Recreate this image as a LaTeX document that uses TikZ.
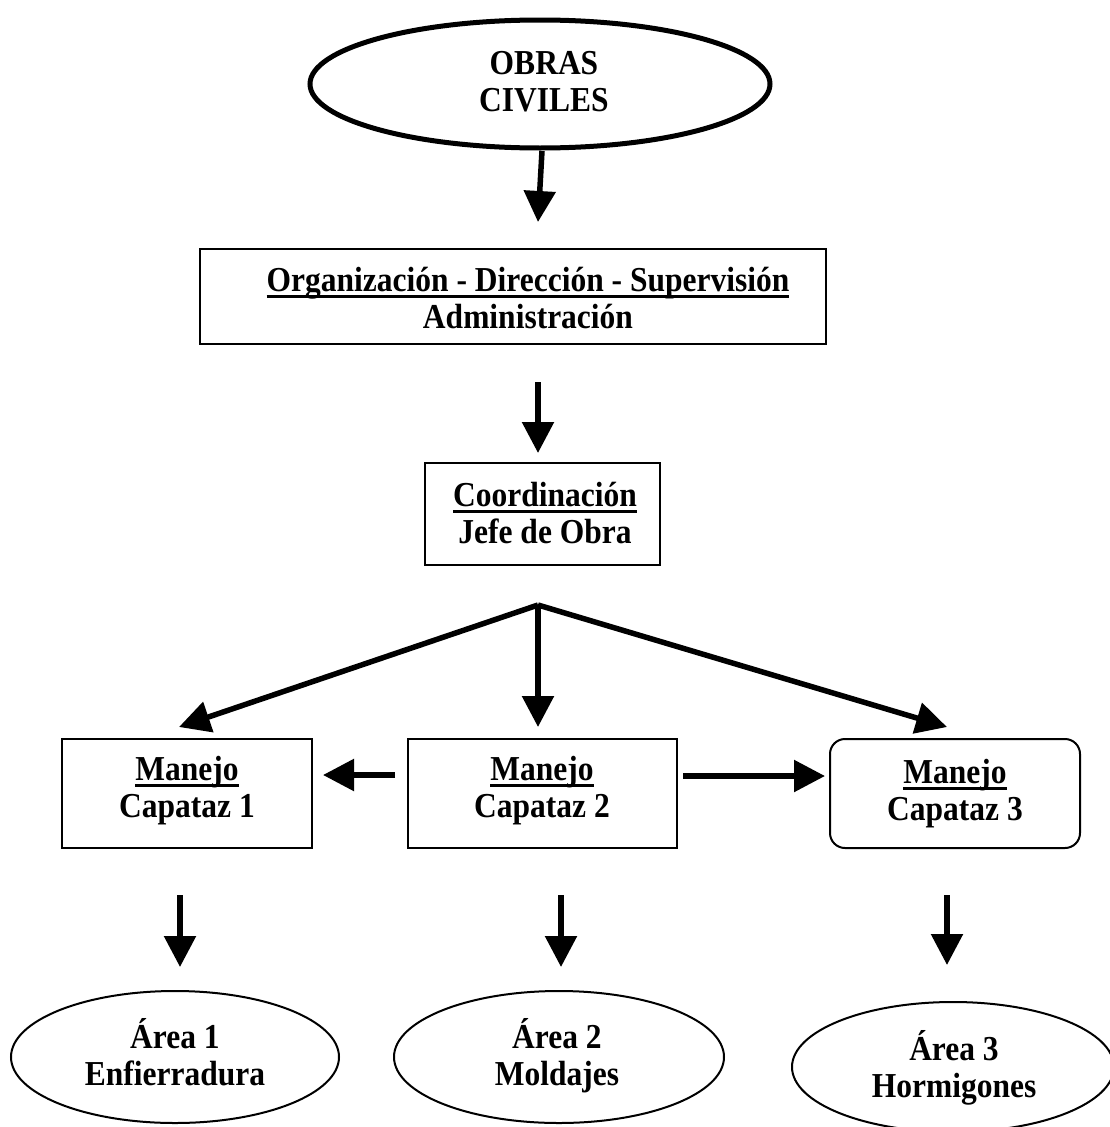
\documentclass[tikz,border=0pt]{standalone}
\usepackage{fontspec}
\setmainfont{Liberation Serif}[FakeStretch=0.9]
\usetikzlibrary{arrows.meta,shapes.geometric}
% heavy underline set close to the baseline
\newcommand\ulin[1]{\setbox0\hbox{#1}\rlap{\rule[-7pt]{\wd0}{3pt}}\box0}
% fixed height for first line and depth for last line of two-line labels
\newcommand\hstr{\rule{0pt}{33pt}}
\newcommand\dstr{\rule[-10pt]{0pt}{10pt}}
\tikzset{
  every node/.style={font=\fontsize{35}{37}\selectfont\bfseries, align=center, inner sep=0pt},
  box/.style={draw, line width=2pt, rectangle},
  rbox/.style={draw, line width=2pt, rectangle, rounded corners=15pt},
  oval/.style={draw, line width=2pt, ellipse},
  bigoval/.style={draw, line width=5pt, ellipse},
  flow/.style={line width=5.5pt, -{Triangle[length=31pt,width=31pt]}},
}
\begin{document}
\begin{tikzpicture}[x=1pt,y=-1pt]
\useasboundingbox (0,0) rectangle (1110,1127);

% top level
\node[bigoval, minimum width=460, minimum height=128] (top) at (540,84) {};
\node (toptxt) at (544,81) {\hstr OBRAS\\CIVILES\dstr};

% management boxes
\node[box, minimum width=626, minimum height=95] (org) at (513,296) {};
\node (orgtxt) at (528,298) {\hstr\ulin{Organización - Dirección - Supervisión}\\Administración\dstr};

\node[box, minimum width=235, minimum height=102] (coord) at (542.5,514) {};
\node (coordtxt) at (545,513) {\hstr\ulin{Coordinación}\\Jefe de Obra\dstr};

% foremen
\node[box, minimum width=250, minimum height=109] (cap1) at (187,793.5) {};
\node (cap1txt) at (187,787) {\hstr\ulin{Manejo}\\Capataz 1\dstr};
\node[box, minimum width=269, minimum height=109] (cap2) at (542.5,793.5) {};
\node (cap2txt) at (542,787) {\hstr\ulin{Manejo}\\Capataz 2\dstr};
\node[rbox, minimum width=250, minimum height=109] (cap3) at (955,793.5) {};
\node (cap3txt) at (955,790) {\hstr\ulin{Manejo}\\Capataz 3\dstr};

% work areas
\node[oval, minimum width=328, minimum height=132] (a1) at (175,1057) {};
\node (a1txt) at (175,1055) {\hstr Área 1\\Enfierradura\dstr};
\node[oval, minimum width=330, minimum height=132] (a2) at (559,1057) {};
\node (a2txt) at (557,1055) {\hstr Área 2\\Moldajes\dstr};
\node[oval, minimum width=322, minimum height=130] (a3) at (953,1067) {};
\node (a3txt) at (954,1067) {\hstr Área 3\\Hormigones\dstr};

% arrow anchors
\coordinate (s1) at (542,151);
\coordinate (e1) at (538,222);
\coordinate (s2) at (538,382);
\coordinate (e2) at (538,453);
\coordinate (br) at (538,605);
\coordinate (el) at (179,727);
\coordinate (em) at (538,727);
\coordinate (er) at (947,727);
\coordinate (hl1) at (395,775);
\coordinate (hl2) at (323,775);
\coordinate (hr1) at (683,776);
\coordinate (hr2) at (825,776);
\coordinate (d1a) at (180,895);
\coordinate (d1b) at (180,967);
\coordinate (d2a) at (561,895);
\coordinate (d2b) at (561,967);
\coordinate (d3a) at (947,895);
\coordinate (d3b) at (947,965);

\draw[flow] (s1) -- (e1);
\draw[flow] (s2) -- (e2);
\draw[flow] (br) -- (el);
\draw[flow] (br) -- (em);
\draw[flow] (br) -- (er);
\draw[flow] (hl1) -- (hl2);
\draw[flow] (hr1) -- (hr2);
\draw[flow] (d1a) -- (d1b);
\draw[flow] (d2a) -- (d2b);
\draw[flow] (d3a) -- (d3b);
\end{tikzpicture}
\end{document}
